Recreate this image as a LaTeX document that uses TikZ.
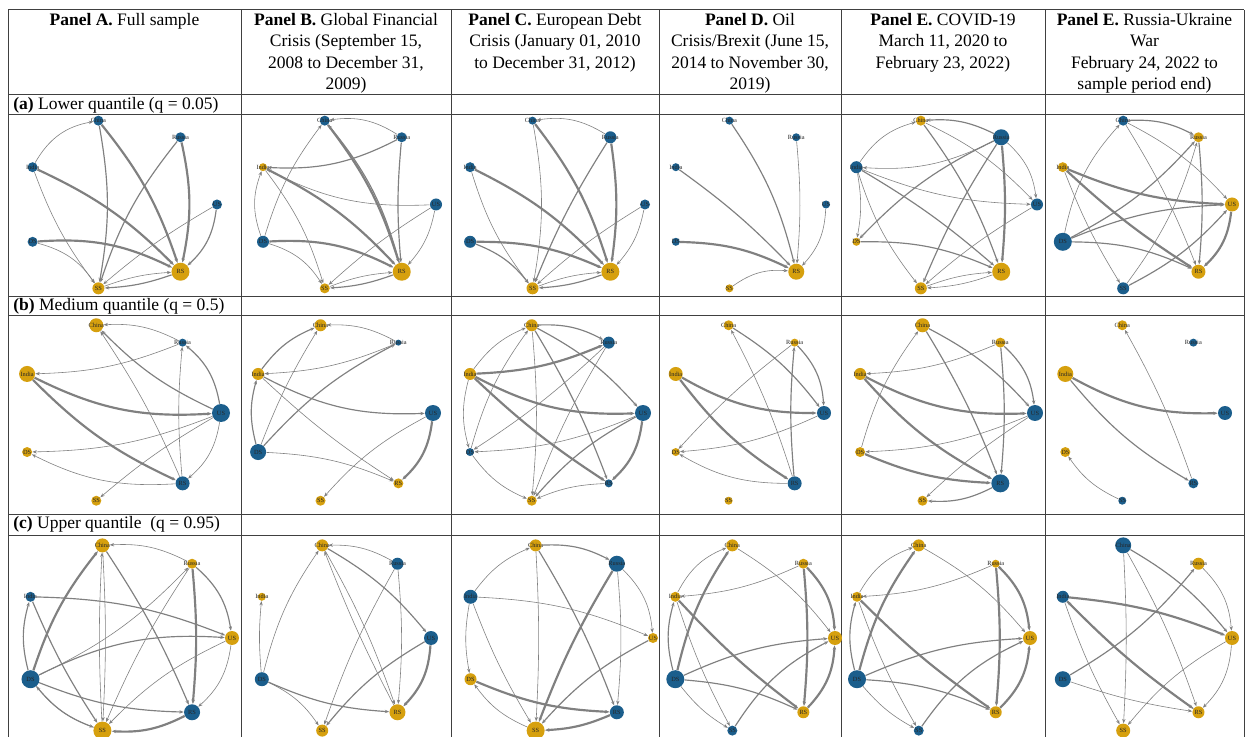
\documentclass[tikz,border=0pt]{standalone}
\usepackage{fontspec}
\setmainfont{Liberation Serif}
\usepackage{xcolor}
\usepackage{tikz}
\usetikzlibrary{positioning,arrows.meta}

\definecolor{netblue}{RGB}{27,94,140}
\definecolor{netgold}{RGB}{214,160,14}
\definecolor{edgegray}{RGB}{128,128,128}

% angles of the seven markets on the circular layout
\newcommand{\angUS}{0}
\newcommand{\angRussia}{51.43}
\newcommand{\angChina}{102.86}
\newcommand{\angIndia}{154.29}
\newcommand{\angDS}{205.71}
\newcommand{\angSS}{257.14}
\newcommand{\angRS}{308.57}

% #1 prefix, #2 cx, #3 cy, #4 rx, #5 ry, #6 name/colour/radius
\newcommand{\netnodes}[6]{%
  \foreach \nm/\col/\rad [evaluate=\rad as \dia using 1.2*\rad] in {#6}
    \node[netnode,fill=net\col,minimum size=\dia pt] (#1\nm)
      at ({#2+#4*cos(\csname ang\nm\endcsname)},{-#3+#5*sin(\csname ang\nm\endcsname)}) {\makebox[0pt]{\nm}};
}
% #1 prefix, #2 from/to/width/bend
\newcommand{\netedges}[2]{%
  \foreach \src/\dst/\lw/\bnd in {#2}
    \draw[netedge,line width=\lw pt] (#1\src) to[bend left=\bnd] (#1\dst);
}

\begin{document}
\begin{tikzpicture}[x=0.6pt,y=0.6pt,>=Stealth,
  netnode/.style={circle,inner sep=0pt,draw=none,font=\fontsize{3.8}{3.8}\selectfont,text=black!85},
  netedge/.style={draw=edgegray,-{Stealth[length=2.6pt,width=2pt]}},
  tablerule/.style={draw=black!75,line width=0.6pt},
  headtext/.style={align=center,anchor=north,inner sep=0pt,font=\fontsize{10.5}{12.8}\selectfont},
  rowtext/.style={anchor=west,inner sep=0pt,font=\fontsize{10.5}{12.8}\selectfont}]
  \fill[white] (0,0) rectangle (1250,-737);
  \useasboundingbox (0,0) rectangle (1250,-737);

  % table rules
  \foreach \yy in {10,95,115,297,316,514,535}
    \draw[tablerule] (8,-\yy) -- (1244,-\yy);
  \foreach \xx in {8,241,451,659,841,1045,1244}
    \draw[tablerule] (\xx,-10) -- (\xx,-737);

  % column heads
  \node[headtext] (hA) at (124.5,-13) {\textbf{Panel A.} Full sample};
  \node[headtext] (hB) at (346,-13) {\textbf{Panel B.} Global Financial\\Crisis (September 15,\\2008 to December 31,\\2009)};
  \node[headtext] (hC) at (555,-13) {\textbf{Panel C.} European Debt\\Crisis (January 01, 2010\\to December 31, 2012)};
  \node[headtext] (hD) at (750,-13) {\textbf{Panel D.} Oil\\Crisis/Brexit (June 15,\\2014 to November 30,\\2019)};
  \node[headtext] (hE) at (943,-13) {\textbf{Panel E.} COVID-19\\March 11, 2020 to\\February 23, 2022)};
  \node[headtext] (hF) at (1144.5,-13) {\textbf{Panel E.} Russia-Ukraine\\War\\February 24, 2022 to\\sample period end)};

  % quantile rows
  \node[rowtext] (qa) at (13,-105) {\textbf{(a)} Lower quantile (q = 0.05)};
  \node[rowtext] (qb) at (13,-306.5) {\textbf{(b)} Medium quantile (q = 0.5)};
  \node[rowtext] (qc) at (13,-524.5) {\textbf{(c)} Upper quantile\ \ (q = 0.95)};

  % (a) lower quantile
  \netnodes{aA}{120}{204.5}{97}{86}{China/blue/5,Russia/blue/5,US/blue/5,RS/gold/9,SS/gold/6,DS/blue/5,India/blue/5}
  \netedges{aA}{India/China/0.35/25,China/RS/1.3/10,China/SS/0.7/10,India/RS/1.3/10,India/SS/0.35/-8,Russia/SS/0.7/-10,Russia/RS/1.3/12,US/SS/0.35/-5,US/RS/0.7/20,DS/RS/1.3/15,DS/SS/0.35/20,RS/SS/0.7/8,SS/RS/0.35/8}
  \netnodes{aB}{345}{204.5}{91}{86}{China/blue/5,Russia/blue/5,US/blue/6,RS/gold/9,SS/gold/5,DS/blue/6,India/gold/4}
  \netedges{aB}{Russia/China/0.35/-20,Russia/India/0.7/15,DS/China/0.35/10,China/RS/1.3/10,RS/China/0.7/-12,India/RS/1.3/10,India/SS/0.35/10,US/India/0.35/15,Russia/RS/0.7/-5,US/RS/0.35/15,US/SS/0.35/-5,DS/RS/1.3/15,DS/SS/0.35/20,DS/India/0.35/20,RS/SS/0.7/8,SS/RS/0.35/8}
  \netnodes{aC}{553}{204.5}{92}{86}{China/blue/4,Russia/blue/6,US/blue/5,RS/gold/9,SS/gold/6,DS/blue/6,India/blue/5}
  \netedges{aC}{Russia/China/0.35/-20,China/SS/0.35/10,China/RS/1.3/10,India/SS/0.35/-10,India/RS/1.3/10,Russia/SS/0.7/-5,Russia/RS/1.3/8,US/SS/0.35/-5,US/RS/0.35/15,DS/RS/1.3/12,DS/SS/0.7/15,RS/SS/0.7/8,SS/RS/0.35/8}
  \netnodes{aD}{747}{204.5}{79}{86}{China/blue/4,Russia/blue/4,US/blue/4,RS/gold/8,SS/gold/4,DS/blue/4,India/blue/4}
  \netedges{aD}{China/RS/0.7/10,Russia/RS/0.35/5,India/RS/0.7/5,US/RS/0.35/20,DS/RS/1.3/12,SS/RS/0.35/20}
  \netnodes{aE}{942}{204.5}{95}{86}{China/gold/5,Russia/blue/8,US/blue/6,RS/gold/9,SS/gold/6,DS/gold/4,India/blue/6}
  \netedges{aE}{Russia/China/0.7/-15,India/China/0.35/20,Russia/India/0.35/15,China/RS/0.7/8,China/US/0.35/10,India/US/0.35/-10,India/RS/0.7/5,India/SS/0.35/-10,India/DS/0.35/10,Russia/DS/0.7/-10,Russia/SS/0.7/-5,Russia/RS/1.3/5,Russia/US/0.35/20,US/SS/0.35/-5,DS/RS/0.7/12,SS/RS/0.35/8,RS/SS/0.35/8}
  \netnodes{aF}{1143}{204.5}{89}{86}{China/blue/5,Russia/gold/5,US/gold/7,RS/gold/7,SS/blue/6,DS/blue/9,India/gold/5}
  \netedges{aF}{China/Russia/0.7/15,China/US/0.35/10,China/RS/0.35/5,DS/China/0.35/15,India/US/1.3/-10,India/RS/1.3/-5,India/SS/0.35/-5,DS/Russia/0.7/-10,DS/US/0.7/10,DS/RS/0.7/12,SS/US/0.7/-10,SS/Russia/0.35/-10,Russia/RS/0.7/5,US/RS/1.3/20}

  % (b) medium quantile
  \netnodes{bA}{119}{413}{102}{90}{China/gold/7,Russia/blue/4,US/blue/9,RS/blue/7,SS/gold/5,DS/gold/5,India/gold/8}
  \netedges{bA}{Russia/China/0.35/-15,US/China/0.7/10,Russia/India/0.35/10,India/US/1.3/-15,India/RS/1.3/-10,US/Russia/0.7/-20,RS/China/0.35/-5,RS/Russia/0.35/5,US/DS/0.35/10,RS/DS/0.35/15,US/SS/0.35/-5,US/RS/0.35/20}
  \netnodes{bB}{341}{413}{92}{90}{China/gold/6,Russia/blue/3,US/blue/8,RS/gold/5,SS/gold/5,DS/blue/8,India/gold/6}
  \netedges{bB}{Russia/China/0.35/-15,DS/China/0.35/5,India/China/0.7/15,DS/Russia/0.7/10,India/US/0.7/-15,India/RS/0.35/-5,DS/India/0.7/15,DS/RS/0.35/10,US/SS/0.35/-10,US/RS/1.3/20,Russia/India/0.35/10}
  \netnodes{bC}{552}{413}{91}{90}{China/gold/6,Russia/blue/6,US/blue/8,RS/blue/4,SS/gold/5,DS/blue/4,India/gold/6}
  \netedges{bC}{China/Russia/0.7/15,India/China/0.35/15,India/Russia/1.3/-10,India/US/1.3/-15,India/RS/1.3/-5,India/DS/0.35/-15,China/US/0.7/10,China/RS/0.7/5,China/SS/0.35/5,DS/China/0.35/10,Russia/DS/0.35/5,Russia/SS/0.35/-5,US/DS/0.35/10,US/SS/0.7/-10,US/RS/1.3/20,DS/SS/0.35/-15,RS/SS/0.35/-10}
  \netnodes{bD}{746}{413}{78}{90}{China/gold/5,Russia/gold/4,US/blue/7,RS/blue/7,SS/gold/4,DS/gold/4,India/gold/7}
  \netedges{bD}{China/US/0.7/10,RS/China/0.35/-5,Russia/DS/0.35/-5,Russia/US/0.7/20,RS/Russia/0.7/5,India/US/1.3/-15,India/RS/1.3/-10,US/DS/0.35/10,RS/DS/0.35/15}
  \netnodes{bE}{943}{413}{92}{90}{China/gold/7,Russia/gold/5,US/blue/8,RS/blue/9,SS/gold/5,DS/gold/5,India/gold/6}
  \netedges{bE}{China/US/0.7/10,China/RS/0.7/5,DS/China/0.35/10,Russia/India/0.35/10,India/US/1.3/-15,India/RS/1.3/-10,Russia/RS/0.7/5,Russia/US/0.7/20,US/DS/0.35/10,DS/RS/1.3/-10,US/SS/0.35/-5,RS/SS/0.7/15}
  \netnodes{bF}{1141}{413}{84}{90}{China/gold/5,Russia/blue/4,US/blue/7,RS/blue/5,SS/blue/4,DS/gold/5,India/gold/8}
  \netedges{bF}{India/US/1.3/-15,India/RS/0.7/-10,RS/China/0.35/-5,SS/DS/0.35/15}

  % (c) upper quantile
  \netnodes{cA}{126}{638}{106}{95}{China/gold/7,Russia/gold/5,US/gold/7,RS/blue/8,SS/gold/9,DS/blue/9,India/blue/5}
  \netedges{cA}{Russia/China/0.35/-15,DS/China/1.3/10,China/SS/0.35/3,SS/China/0.35/3,China/RS/0.7/5,India/US/0.7/10,India/SS/0.7/-5,DS/India/0.7/15,DS/Russia/0.35/-10,DS/US/0.7/15,Russia/SS/0.35/-5,Russia/RS/1.3/5,Russia/US/0.7/20,US/SS/0.35/-10,US/RS/0.35/20,DS/RS/0.7/-10,DS/SS/0.7/-15,SS/DS/0.35/15,RS/SS/1.3/15}
  \netnodes{cB}{342}{638}{89}{95}{China/gold/6,Russia/blue/6,US/blue/7,RS/gold/8,SS/gold/6,DS/blue/7,India/gold/4}
  \netedges{cB}{Russia/China/0.35/-15,DS/China/0.35/10,China/US/0.7/10,China/RS/0.35/5,RS/China/0.35/3,Russia/SS/0.35/-5,Russia/RS/0.35/5,US/RS/1.3/20,US/SS/0.7/-10,DS/India/0.35/5,DS/RS/0.7/-10,DS/SS/0.35/15}
  \netnodes{cC}{557}{638}{96}{95}{China/gold/6,Russia/blue/8,US/gold/5,RS/blue/7,SS/gold/9,DS/gold/6,India/blue/7}
  \netedges{cC}{China/Russia/0.7/15,India/China/0.35/15,India/US/0.35/10,India/DS/0.35/-10,India/SS/0.35/-5,China/RS/0.7/5,China/SS/0.35/3,Russia/SS/1.3/-5,Russia/US/0.35/20,Russia/RS/0.35/5,US/SS/0.7/-10,DS/RS/1.3/-10,SS/DS/0.35/15,RS/SS/1.3/10}
  \netnodes{cD}{751}{638}{84}{95}{China/gold/6,Russia/gold/5,US/gold/7,RS/gold/6,SS/blue/5,DS/blue/9,India/gold/5}
  \netedges{cD}{India/China/0.35/20,DS/China/1.3/10,China/US/0.35/10,Russia/India/0.35/10,India/RS/1.3/-5,DS/India/0.7/15,India/SS/0.35/-5,DS/US/0.7/10,DS/RS/0.7/10,DS/SS/0.35/-10,SS/US/0.7/15,Russia/RS/1.3/5,Russia/US/1.3/20,RS/US/1.3/-20}
  \netnodes{cE}{939}{638}{91}{95}{China/gold/6,Russia/gold/4,US/gold/7,RS/gold/6,SS/blue/5,DS/blue/9,India/gold/5}
  \netedges{cE}{India/China/0.35/20,DS/China/1.3/10,China/US/0.35/10,Russia/India/0.35/10,India/RS/1.3/-5,DS/India/0.7/15,India/SS/0.35/-5,DS/US/0.7/10,DS/RS/0.7/10,DS/SS/0.35/-10,SS/US/0.7/15,Russia/RS/1.3/5,Russia/US/1.3/20,RS/US/1.3/-20}
  \netnodes{cF}{1143}{638}{89}{95}{China/blue/8,Russia/gold/6,US/gold/7,RS/gold/6,SS/gold/7,DS/blue/8,India/blue/6}
  \netedges{cF}{China/US/0.7/10,China/RS/0.35/5,China/SS/0.35/3,Russia/US/0.35/20,India/US/1.3/8,India/RS/1.3/-5,RS/India/0.7/5,India/SS/0.35/-5,DS/Russia/0.7/-10,DS/RS/0.35/-5,US/SS/0.35/-10,US/RS/0.35/20}
\end{tikzpicture}
\end{document}
